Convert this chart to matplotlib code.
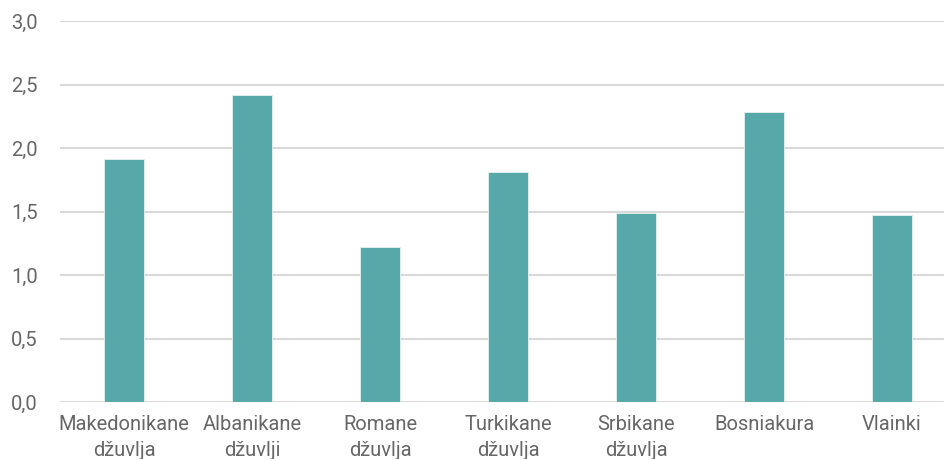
import matplotlib
matplotlib.use("Agg")
import matplotlib.pyplot as plt
import numpy as np

categories = ["Makedonikane\ndžuvlja", "Albanikane\ndžuvlji", "Romane\ndžuvlja",
              "Turkikane\ndžuvlja", "Srbikane\ndžuvlja", "Bosniakura", "Vlainki"]
values = [1.91, 2.42, 1.22, 1.81, 1.49, 2.28, 1.47]
yticks = [0.0, 0.5, 1.0, 1.5, 2.0, 2.5, 3.0]

plt.rcParams['font.family'] = ['Roboto', 'DejaVu Sans']

W, H = 944, 459
fig = plt.figure(figsize=(W/100, H/100), dpi=100)
left, right = 60, 956
bottom, top = 402, 21
ax = fig.add_axes([left/W, 1 - bottom/H, (right-left)/W, (bottom-top)/H])

x = np.arange(len(categories))
ax.bar(x, values, width=0.31, color="#57A9A9", edgecolor="#e6f2f2", linewidth=0.6, zorder=3)
ax.set_xlim(-0.5, len(categories) - 0.5)
ax.set_ylim(0, 3.0)
ax.set_yticks(yticks)
ax.set_yticklabels([f"{v:.1f}".replace(".", ",") for v in yticks])
ax.set_xticks(x)
ax.set_xticklabels(categories, linespacing=1.5)
ax.grid(axis="y", color="#d9d9d9", linewidth=1.5, zorder=0)
ax.set_axisbelow(True)
for s in ax.spines.values():
    s.set_visible(False)
ax.tick_params(axis="y", length=0, labelsize=14.5, colors="#666666", pad=16)
ax.tick_params(axis="x", length=0, labelsize=14.5, colors="#666666", pad=9)

fig.savefig("out.png", dpi=100)
